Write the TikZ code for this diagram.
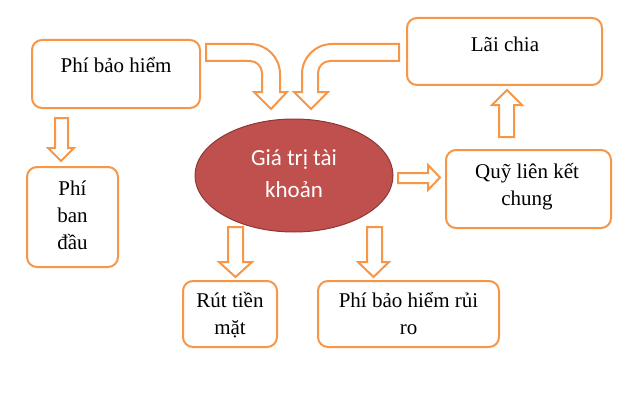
\documentclass[tikz,border=0pt]{standalone}
\usepackage{fontspec}
\setmainfont{Liberation Serif}
\newfontfamily\calibri{Carlito}
\usetikzlibrary{shapes.geometric}
\definecolor{orng}{RGB}{247,150,70}
\definecolor{redfill}{RGB}{192,80,77}
\definecolor{redline}{RGB}{140,56,53}
\tikzset{
  box/.style={draw=orng, line width=2pt, rounded corners=10pt, fill=white, inner sep=0pt},
  txt/.style={anchor=base, inner sep=0pt, font=\fontsize{21}{27}\selectfont},
  etxt/.style={anchor=base, inner sep=0pt, text=white, font=\calibri\fontsize{23}{32}\selectfont},
  blockarrow/.style={draw=orng, line width=2pt, fill=white, line join=miter},
}
\begin{document}
\begin{tikzpicture}[x=1pt,y=-1pt]
\useasboundingbox (0,0) rectangle (640,404);
% boxes
\node[box, minimum width=168pt, minimum height=68pt] (pbh) at (116,74) {};
\node[box, minimum width=91pt, minimum height=100pt] (pbd) at (72.5,217) {};
\node[box, minimum width=195pt, minimum height=67pt] (lai) at (504.5,51.5) {};
\node[box, minimum width=165pt, minimum height=78pt] (quy) at (528.5,189) {};
\node[box, minimum width=94pt, minimum height=66pt] (rut) at (230,314) {};
\node[box, minimum width=181pt, minimum height=66pt] (pbr) at (408.5,314) {};
\node[ellipse, draw=redline, line width=1pt, fill=redfill, minimum width=198pt, minimum height=113pt, inner sep=0pt] (gtk) at (294,175.5) {};
% texts
\node[txt] (pbh-t) at (116,73) {Phí bảo hiểm};
\node[txt] (pbd-t1) at (72.5,195) {Phí};
\node[txt] (pbd-t2) at (72.5,222) {ban};
\node[txt] (pbd-t3) at (72.5,249) {đầu};
\node[txt] (lai-t) at (505,52) {Lãi chia};
\node[txt] (quy-t1) at (527,178) {Quỹ liên kết};
\node[txt] (quy-t2) at (527,205) {chung};
\node[txt] (rut-t1) at (230,307) {Rút tiền};
\node[txt] (rut-t2) at (230,334) {mặt};
\node[txt] (pbr-t1) at (408.5,307) {Phí bảo hiểm rủi};
\node[txt] (pbr-t2) at (408.5,334) {ro};
\node[etxt] (gtk-t1) at (294,165) {Giá trị tài};
\node[etxt] (gtk-t2) at (294,197) {khoản};
% bent arrow from Phi bao hiem
\draw[blockarrow] (206,44) -- (250,44) .. controls (266.6,44) and (280,57.4) .. (280,74)
  -- (280,92) -- (287,92) -- (271,109) -- (254,92) -- (262,92) -- (262,73)
  .. controls (262,66.4) and (256.6,61) .. (250,61) -- (206,61) -- cycle;
% bent arrow from Lai chia
\draw[blockarrow] (399,44) -- (332,44) .. controls (315.4,44) and (302,57.4) .. (302,74)
  -- (302,92) -- (294,92) -- (311,109) -- (328,92) -- (318,92) -- (318,73)
  .. controls (318,66.4) and (323.4,61) .. (330,61) -- (399,61) -- cycle;
% down arrow pbh -> pbd
\draw[blockarrow] (55,118) -- (68,118) -- (68,148) -- (74,148) -- (61,161) -- (48,148) -- (55,148) -- cycle;
% right arrow gtk -> quy
\draw[blockarrow] (398,173) -- (428,173) -- (428,165) -- (440,177.5) -- (428,190) -- (428,183) -- (398,183) -- cycle;
% up arrow quy -> lai
\draw[blockarrow] (499,137) -- (499,105) -- (492,105) -- (507,90) -- (522,105) -- (514,105) -- (514,137) -- cycle;
% down arrows gtk -> rut, pbr
\draw[blockarrow] (228,227) -- (243,227) -- (243,262) -- (252,262) -- (235.5,277) -- (219,262) -- (228,262) -- cycle;
\draw[blockarrow] (367,227) -- (382,227) -- (382,262) -- (389,262) -- (373.5,277) -- (358,262) -- (367,262) -- cycle;
\end{tikzpicture}
\end{document}
